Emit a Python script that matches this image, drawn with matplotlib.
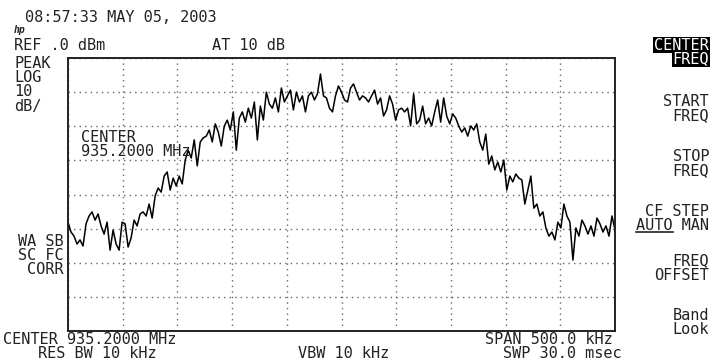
import numpy as np
import matplotlib
matplotlib.use("Agg")
import matplotlib.pyplot as plt

# analyzer settings
center_mhz = 935.2
span_mhz = 0.5
ref_dbm = 0.0
db_per_div = 10

# trace (dBm), left to right across the span
trace_dbm = [
    -48.1, -51.0, -52.2, -54.5, -53.3, -55.1, -48.6, -46.3, -45.1, -47.5,
    -45.7, -49.2, -51.6, -48.1, -56.3, -50.4, -54.5, -56.3, -48.1, -48.6,
    -55.4, -52.7, -47.5, -49.2, -45.7, -45.1, -46.3, -42.8, -46.9, -40.4,
    -38.1, -39.3, -34.6, -33.4, -38.7, -35.2, -37.5, -34.6, -36.9, -29.9,
    -27.0, -29.3, -24.0, -31.6, -24.6, -23.4, -22.9, -21.1, -24.6, -19.3,
    -21.7, -25.8, -19.9, -18.2, -21.1, -15.8, -27.0, -17.6, -15.8, -18.8,
    -14.7, -17.6, -12.9, -24.0, -14.1, -18.2, -10.0, -13.5, -14.7, -11.7,
    -15.8, -8.8, -12.9, -11.1, -9.4, -15.2, -10.0, -12.9, -11.1, -15.8,
    -11.1, -10.0, -12.3, -10.5, -4.7, -11.1, -11.7, -14.7, -15.8, -11.1,
    -8.2, -10.0, -12.3, -12.9, -8.8, -7.6, -10.0, -12.3, -11.1, -11.7,
    -12.9, -11.1, -9.4, -13.5, -11.7, -17.0, -15.2, -11.1, -13.5, -18.2,
    -15.2, -14.7, -15.8, -14.7, -19.9, -10.5, -19.3, -18.2, -14.1, -19.3,
    -17.6, -19.9, -15.8, -12.3, -18.8, -11.7, -17.0, -19.3, -16.4, -17.6,
    -19.9, -21.7, -20.5, -22.9, -19.9, -21.1, -19.3, -24.6, -27.0, -22.3,
    -31.1, -28.7, -32.8, -30.5, -33.4, -29.9, -38.7, -34.6, -36.3, -34.0,
    -35.2, -35.7, -42.8, -38.7, -34.6, -44.0, -42.8, -46.3, -45.1, -49.8,
    -52.2, -51.0, -53.3, -48.1, -49.8, -42.8, -46.3, -48.1, -59.2, -49.8,
    -52.2, -47.5, -49.2, -51.6, -49.2, -52.2, -46.9, -48.6, -51.0, -49.2,
    -52.2, -46.3, -50.4,
]

freq_mhz = np.linspace(center_mhz - span_mhz / 2, center_mhz + span_mhz / 2, len(trace_dbm))

W, H = 712, 362
fig = plt.figure(figsize=(W / 100, H / 100), dpi=100)
fig.patch.set_facecolor("white")
ax = fig.add_axes([68 / W, 1 - 331 / H, (615 - 68) / W, (331 - 58) / H])

ax.plot(freq_mhz, trace_dbm, color="black", lw=1.1)
ax.set_xlim(center_mhz - span_mhz / 2, center_mhz + span_mhz / 2)
ax.set_ylim(ref_dbm - 8 * db_per_div, ref_dbm)
ax.set_xticks(np.linspace(center_mhz - span_mhz / 2, center_mhz + span_mhz / 2, 11))
ax.set_yticks(np.arange(ref_dbm - 8 * db_per_div, ref_dbm + 1, db_per_div))
ax.tick_params(length=0, labelbottom=False, labelleft=False)
ax.grid(True, color="#666666", lw=1.0, linestyle=(0, (1, 3)))
for s in ax.spines.values():
    s.set_linewidth(1.4)
    s.set_color("#222222")

mono = dict(family="DejaVu Sans Mono", fontsize=11, color="#222222")


def txt(x, y, s, ha="left", **kw):
    opts = dict(mono)
    opts.update(kw)
    return fig.text(x / W, 1 - y / H, s, ha=ha, va="center", **opts)


# header
txt(25, 17, "08:57:33 MAY 05, 2003")
txt(14, 30, "hp", fontsize=7, style="italic", weight="bold")
txt(14, 46, "REF .0 dBm")
txt(212, 46, "AT 10 dB")
txt(14, 63, "PEAK")
txt(14, 78, "LOG")
txt(14, 92, "10")
txt(14, 106, "dB/")

# annotations inside / left of the grid
txt(81, 138, "CENTER")
txt(81, 152, "935.2000 MHz")
txt(64, 242, "WA SB", ha="right")
txt(64, 256, "SC FC", ha="right")
txt(64, 270, "CORR", ha="right")

# footer
txt(3, 339, "CENTER 935.2000 MHz")
txt(38, 353, "RES BW 10 kHz")
txt(298, 353, "VBW 10 kHz")
txt(613, 339, "SPAN 500.0 kHz", ha="right")
txt(622, 353, "SWP 30.0 msec", ha="right")

# soft key menu
hl = dict(boxstyle="square,pad=0.05", fc="black", ec="none")
txt(709, 45, "CENTER", ha="right", color="white", bbox=hl)
txt(709, 59, "FREQ", ha="right", color="white", bbox=hl)
txt(709, 102, "START", ha="right")
txt(709, 116, "FREQ", ha="right")
txt(709, 157, "STOP", ha="right")
txt(709, 171, "FREQ", ha="right")
txt(709, 211, "CF STEP", ha="right")
auto = txt(709, 225, "AUTO MAN", ha="right")
txt(709, 261, "FREQ", ha="right")
txt(709, 275, "OFFSET", ha="right")
txt(709, 315, "Band", ha="right")
txt(709, 329, "Look", ha="right")

# underline "AUTO" (first 4 of 8 monospaced characters)
fig.canvas.draw()
bb = auto.get_window_extent()
x0, x1 = bb.x0 / W, (bb.x0 + bb.width * 4 / 8) / W
fig.add_artist(plt.Line2D([x0, x1], [1 - 232 / H, 1 - 232 / H], color="#222222", lw=1.2))

fig.savefig("out.png", dpi=100, facecolor="white")
